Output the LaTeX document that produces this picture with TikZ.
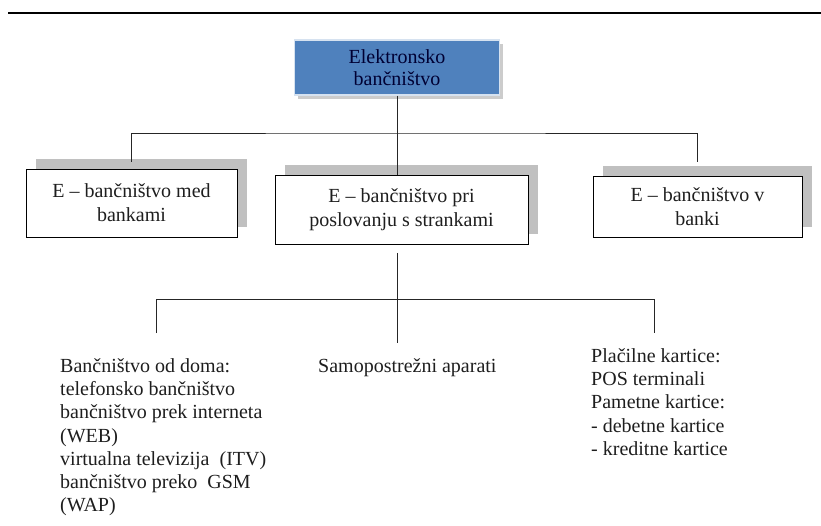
\documentclass[tikz,border=0pt]{standalone}
\usepackage{fontspec}
\setmainfont{Liberation Serif}
\usetikzlibrary{shadows}
\definecolor{rootBlue}{RGB}{79, 129, 189}
\definecolor{rootEdge}{RGB}{214, 226, 240}
\definecolor{shadowGray}{RGB}{192, 192, 192}
\definecolor{inkDark}{RGB}{30, 30, 30}

\begin{document}
\begin{tikzpicture}[x=1pt, y=-1pt,
    rootbox/.style={fill=rootBlue, draw=rootEdge, line width=1.5pt, align=center,
      minimum width=205pt, minimum height=55pt, text=black!80!blue,
      font=\fontsize{20}{22}\selectfont,
      drop shadow={shadow xshift=3pt, shadow yshift=-4pt, fill=gray!40, opacity=1}},
    subbox/.style={draw=black, line width=0.9pt, fill=white, align=center, text=inkDark,
      font=\fontsize{20}{24}\selectfont,
      drop shadow={shadow xshift=10pt, shadow yshift=10pt, fill=shadowGray, opacity=1}},
    item/.style={align=left, anchor=north west, inner sep=0pt, text=inkDark,
      font=\fontsize{20}{23.3}\selectfont},
    link/.style={line width=0.9pt, black!85}]
      \useasboundingbox (0,0) rectangle (821,526);

      % rule at the top
      \draw[line width=1.6pt] (8,13) -- (821,13);

      % root and first level
      \node[rootbox] (root) at (397,67.5) {Elektronsko\\bančništvo};
      \node[subbox, minimum width=211pt, minimum height=68pt] (medbanke) at (131.5,203) {E -- bančništvo med\\bankami};
      \node[subbox, minimum width=253pt, minimum height=69pt] (stranke) at (401.5,209.5) {E -- bančništvo pri\\poslovanju s strankami};
      \node[subbox, minimum width=209pt, minimum height=61pt] (vbanki) at (697.5,206.5) {E -- bančništvo v\\banki};

      \coordinate (bus1) at (397,133);
      \draw[link] (root.south) -- (root.south |- stranke.north);
      \draw[link] ([yshift=7pt]medbanke.north) |- (bus1) -| ([yshift=14pt]vbanki.north);

      % second level
      \node[item] (doma) at (60,358) {Bančništvo od doma:\\telefonsko bančništvo\\bančništvo prek interneta\\(WEB)\\virtualna televizija\ \ (ITV)\\bančništvo preko\ \ GSM\\(WAP)};
      \node[item] (samo) at (318,358) {Samopostrežni aparati};
      \node[item] (kartice) at (591,348) {Plačilne kartice:\\POS terminali\\Pametne kartice:\\- debetne kartice\\- kreditne kartice};

      \coordinate (bus2) at (397,299);
      \coordinate (start2) at (397,253);
      \coordinate (drop1) at (156,333);
      \coordinate (drop2) at (397,343);
      \coordinate (drop3) at (654,333);
      \draw[link] (start2) -- (drop2);
      \draw[link] (drop1) -- (drop1 |- bus2) -- (drop3 |- bus2) -- (drop3);
    \end{tikzpicture}
\end{document}
